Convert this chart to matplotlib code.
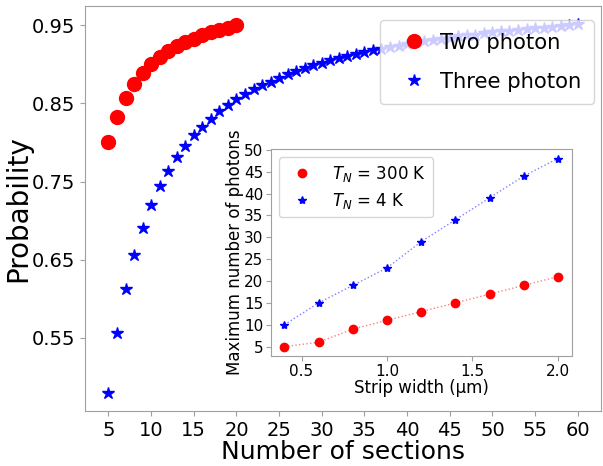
import numpy as np
import matplotlib
matplotlib.use("Agg")
import matplotlib.pyplot as plt

# main plot data
sections_two = np.arange(5, 21)
prob_two = [0.800, 0.833, 0.857, 0.875, 0.889, 0.900, 0.909, 0.917,
            0.923, 0.929, 0.933, 0.938, 0.941, 0.944, 0.947, 0.950]

sections_three = np.arange(5, 61)
prob_three = [0.480, 0.556, 0.612, 0.656, 0.691, 0.720, 0.744, 0.764,
              0.781, 0.796, 0.809, 0.820, 0.830, 0.840, 0.848, 0.855,
              0.862, 0.868, 0.873, 0.878, 0.883, 0.888, 0.892, 0.895,
              0.899, 0.902, 0.905, 0.908, 0.911, 0.913, 0.916, 0.918,
              0.920, 0.922, 0.924, 0.926, 0.928, 0.930, 0.931, 0.933,
              0.934, 0.936, 0.937, 0.938, 0.940, 0.941, 0.942, 0.943,
              0.944, 0.945, 0.946, 0.947, 0.948, 0.949, 0.950, 0.951]

# inset data
strip_width = [0.4, 0.6, 0.8, 1.0, 1.2, 1.4, 1.6, 1.8, 2.0]
photons_300K = [5, 6, 9, 11, 13, 15, 17, 19, 21]
photons_4K = [10, 15, 19, 23, 29, 34, 39, 44, 48]

spine_col = "#a0a0a0"

fig = plt.figure(figsize=(6.03, 4.66), dpi=100)
ax = fig.add_axes([0.141, 0.118, 0.856, 0.869])

ax.plot(sections_two, prob_two, "o", color="red", markersize=10, label="Two photon")
ax.plot(sections_three, prob_three, "*", color="blue", markersize=9, label="Three photon")

ax.set_xticks(np.arange(5, 61, 5))
ax.set_yticks([0.55, 0.65, 0.75, 0.85, 0.95])
ax.tick_params(labelsize=14, color=spine_col)
ax.set_xlabel("Number of sections", fontsize=18, labelpad=0)
ax.set_ylabel("Probability", fontsize=20, labelpad=0)
for s in ax.spines.values():
    s.set_color(spine_col)
ax.legend(loc="upper right", bbox_to_anchor=(594 / 603, 1 - 20 / 466),
          bbox_transform=fig.transFigure, borderaxespad=0,
          fontsize=15.2, handletextpad=0.25, borderpad=0.6,
          labelspacing=0.9)

# inset
ins = fig.add_axes([0.449, 0.236, 0.499, 0.444])
ins.plot(strip_width, photons_300K, ":", color="red", lw=1, alpha=0.5)
ins.plot(strip_width, photons_4K, ":", color="blue", lw=1, alpha=0.5)
ins.plot(strip_width, photons_300K, "o", color="red", markersize=6, label="$T_N$ = 300 K")
ins.plot(strip_width, photons_4K, "*", color="blue", markersize=6, label="$T_N$ = 4 K")
ins.set_xticks([0.5, 1.0, 1.5, 2.0])
ins.set_yticks(np.arange(5, 51, 5))
ins.tick_params(labelsize=11, color=spine_col, pad=2)
ins.set_xlabel("Strip width (\u03bcm)", fontsize=12, labelpad=0)
ins.set_ylabel("Maximum number of photons", fontsize=12, labelpad=0)
for s in ins.spines.values():
    s.set_color(spine_col)
ins.legend(loc="upper left", fontsize=12, labelspacing=0.4)

fig.savefig("out.png", dpi=100)
